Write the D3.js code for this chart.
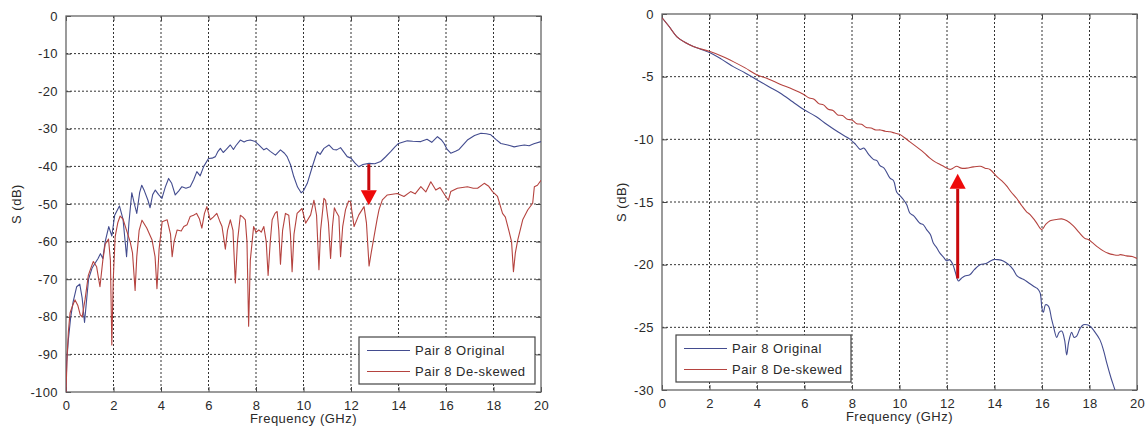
<!DOCTYPE html>
<html>
<head>
<meta charset="utf-8">
<script src="https://cdn.jsdelivr.net/npm/d3@7"></script>
<style>
  body { margin: 0; background: #fff; }
  text { font-family: Arial, "Liberation Sans", sans-serif; fill: #2a2a2a; }
  .tick-label { font-size: 13px; letter-spacing: 0.4px; }
  .axis-title { font-size: 13px; letter-spacing: 0.5px; }
  .legend-text { font-size: 13px; letter-spacing: 0.5px; }
</style>
</head>
<body>
<svg id="chart"></svg>
<script>
// svg size
const width = 1147;
const height = 429;

// ---- data ----
const seriesNames = ["Pair 8 Original", "Pair 8 De-skewed"];
const seriesColors = ["#434c8f", "#b5433f"];

const xTicks = [0, 2, 4, 6, 8, 10, 12, 14, 16, 18, 20];
const leftYTicks = [0, -10, -20, -30, -40, -50, -60, -70, -80, -90, -100];
const rightYTicks = [0, -5, -10, -15, -20, -25, -30];

// left panel, [GHz, dB]
const leftOriginal = [
  [0,-100],[0.03,-92],[0.1,-86],[0.2,-80],[0.3,-76],[0.45,-72],[0.58,-71.3],[0.68,-75],[0.78,-81.5],[0.86,-76],
  [0.95,-70],[1.1,-67],[1.25,-65.5],[1.35,-64.5],[1.45,-63.2],[1.55,-64.5],[1.65,-60],[1.8,-56],[1.93,-58.5],[2.05,-53],
  [2.25,-50.5],[2.4,-54],[2.55,-64],[2.65,-55],[2.77,-47],[2.88,-50],[2.98,-52.5],[3.1,-47],[3.19,-45],[3.3,-46.5],
  [3.45,-49],[3.54,-51],[3.65,-47.5],[3.76,-46.3],[3.9,-47.5],[4.04,-48.5],[4.18,-45.5],[4.32,-43.2],[4.45,-44.5],[4.6,-47.6],
  [4.75,-46.5],[4.88,-45.4],[5.05,-45.8],[5.23,-45.4],[5.38,-43.5],[5.51,-41.4],[5.65,-42.5],[5.8,-40],[6.0,-37.9],[6.15,-37.8],
  [6.29,-37.4],[6.4,-36],[6.5,-35.2],[6.62,-36.3],[6.75,-35.5],[6.92,-34.3],[7.05,-35.5],[7.15,-34.5],[7.34,-33.0],[7.5,-33.5],
  [7.6,-33.2],[7.76,-33.0],[7.97,-33.4],[8.15,-34.5],[8.33,-35.6],[8.45,-35.2],[8.6,-36],[8.82,-37],[9.03,-35.6],[9.2,-36.5],
  [9.31,-37.4],[9.45,-39.5],[9.59,-42.7],[9.75,-45.5],[9.9,-47],[10.0,-46.5],[10.16,-44.5],[10.37,-40.1],[10.5,-37.5],[10.58,-36.1],
  [10.7,-36.8],[10.86,-35.2],[11.07,-34.3],[11.25,-35.5],[11.4,-35.6],[11.56,-35],[11.7,-36.2],[11.84,-37.4],[12.0,-37.8],[12.15,-39],
  [12.33,-40.1],[12.5,-39.5],[12.76,-39.2],[13.0,-39.3],[13.25,-38.7],[13.45,-37.5],[13.67,-36.1],[13.85,-34.8],[14.0,-33.9],[14.37,-33.2],
  [14.6,-33.3],[14.94,-33.4],[15.2,-32.8],[15.4,-33.6],[15.64,-32.1],[15.8,-32.9],[15.92,-33.9],[16.05,-35.5],[16.2,-36.5],[16.4,-36],
  [16.55,-35.5],[16.9,-33.0],[17.2,-31.8],[17.47,-31.2],[17.7,-31.3],[17.89,-31.6],[18.1,-32.8],[18.31,-33.9],[18.6,-34.3],[18.87,-34.8],
  [19.1,-34.5],[19.3,-34.3],[19.5,-34.5],[19.7,-34.0],[20,-33.4]
];

const leftDeskewed = [
  [0,-100],[0.05,-90],[0.1,-84],[0.17,-79],[0.28,-77],[0.38,-75.5],[0.5,-77],[0.6,-79.5],[0.68,-80],[0.8,-75.5],
  [0.94,-69],[1.05,-67],[1.15,-65.3],[1.29,-66.7],[1.43,-72],[1.55,-65],[1.65,-60.7],[1.79,-59.3],[1.87,-65],[1.93,-87.5],
  [1.99,-70],[2.07,-58.7],[2.18,-55],[2.28,-53.2],[2.4,-54],[2.55,-57],[2.7,-60],[2.8,-63],[2.91,-73],[2.98,-64],
  [3.08,-57],[3.2,-54.3],[3.4,-56.4],[3.62,-59.5],[3.75,-64],[3.83,-72.5],[3.92,-62],[4.05,-54.7],[4.26,-54.2],[4.4,-58],
  [4.47,-64],[4.55,-60],[4.68,-56.9],[4.85,-57.2],[4.96,-56],[5.1,-55.5],[5.23,-53.3],[5.37,-53],[5.5,-52.5],[5.62,-54],
  [5.72,-56.4],[5.83,-52.5],[5.93,-50.7],[6.07,-54.2],[6.2,-53.5],[6.35,-52.5],[6.47,-54.5],[6.57,-56],[6.71,-62],[6.8,-57],
  [6.92,-54.2],[7.03,-57],[7.13,-71],[7.22,-60],[7.34,-53],[7.45,-53.5],[7.55,-54.2],[7.62,-60],[7.69,-82.5],[7.76,-65],
  [7.9,-56],[8.0,-57.5],[8.12,-56.9],[8.22,-57.5],[8.33,-56],[8.43,-60],[8.51,-69],[8.6,-60],[8.68,-54.2],[8.8,-52.5],
  [8.89,-52],[8.96,-57],[9.03,-66],[9.12,-57],[9.24,-52.5],[9.38,-53],[9.45,-58],[9.52,-68],[9.6,-58],[9.73,-52.5],
  [9.94,-51.2],[10.09,-55.1],[10.3,-52.9],[10.44,-49],[10.55,-53],[10.65,-67.5],[10.72,-57],[10.86,-48.5],[10.93,-49],[11.05,-55],
  [11.14,-64.5],[11.22,-56],[11.3,-51],[11.37,-52],[11.49,-53.3],[11.56,-64],[11.65,-56],[11.77,-51.5],[11.9,-49.2],[11.98,-49.4],
  [12.13,-56],[12.33,-52.9],[12.55,-50.7],[12.65,-55],[12.76,-66.5],[12.85,-63],[12.97,-58.7],[13.1,-54],[13.18,-51.5],[13.32,-48.9],
  [13.53,-47.6],[13.95,-47.2],[14.23,-48],[14.51,-46.7],[14.7,-47.3],[14.94,-45.4],[15.15,-46.8],[15.36,-44.1],[15.57,-46.3],[15.75,-45.6],
  [15.99,-48],[16.1,-49],[16.2,-46.7],[16.48,-45.8],[16.9,-45.4],[17.15,-45.8],[17.33,-45.8],[17.61,-44.5],[17.8,-45.3],[17.96,-46.7],
  [18.17,-48],[18.38,-52.5],[18.5,-53.5],[18.66,-57.4],[18.76,-60],[18.84,-68],[18.92,-63],[19.02,-59.6],[19.23,-54.2],[19.44,-51.6],
  [19.65,-49.8],[19.72,-45.4],[19.85,-45],[20,-43.7]
];

// right panel, [GHz, dB]
const rightOriginal = [
  [0,-0.3],[0.3,-1.0],[0.62,-1.8],[1.0,-2.3],[1.32,-2.6],[2.02,-3.1],[2.5,-3.6],[3.0,-4.2],[3.5,-4.7],[3.99,-5.24],
  [4.5,-5.8],[4.97,-6.3],[5.5,-7.0],[5.95,-7.6],[6.5,-8.2],[6.93,-8.8],[7.4,-9.4],[7.92,-10.0],[8.15,-10.4],[8.34,-10.8],
  [8.5,-10.7],[8.7,-11.2],[8.9,-11.6],[9.05,-11.7],[9.18,-12.1],[9.35,-12.3],[9.6,-13.1],[9.75,-13.3],[9.88,-14.2],[10.02,-14.5],
  [10.16,-14.8],[10.3,-15.2],[10.44,-15.9],[10.6,-16.1],[10.86,-16.7],[11.0,-16.8],[11.14,-17.2],[11.3,-17.6],[11.43,-18.3],[11.55,-18.6],
  [11.71,-19.1],[11.85,-19.4],[11.99,-19.7],[12.1,-19.6],[12.25,-20.0],[12.35,-20.6],[12.48,-21.3],[12.6,-21.1],[12.75,-20.9],[12.96,-20.8],
  [13.15,-20.4],[13.39,-20.0],[13.65,-19.9],[13.95,-19.6],[14.15,-19.6],[14.37,-19.7],[14.6,-20.0],[14.79,-20.4],[14.95,-20.9],[15.07,-21.05],
  [15.25,-21.2],[15.4,-21.4],[15.63,-21.7],[15.8,-21.9],[15.92,-22.25],[16.0,-23.5],[16.06,-23.8],[16.15,-23.2],[16.27,-23.3],[16.4,-24.3],
  [16.48,-24.9],[16.62,-25.8],[16.72,-25.4],[16.83,-25.3],[16.95,-26.0],[17.04,-27.2],[17.12,-26.2],[17.25,-25.4],[17.35,-25.8],[17.46,-25.7],
  [17.6,-25.1],[17.74,-24.8],[17.9,-24.8],[18.02,-24.9],[18.2,-25.3],[18.44,-26.0],[18.6,-26.9],[18.72,-27.8],[18.9,-29.0],[19.07,-30.0],
  [19.15,-30.6]
];

const rightDeskewed = [
  [0,-0.3],[0.3,-1.0],[0.62,-1.8],[1.0,-2.3],[1.32,-2.6],[2.02,-3.0],[2.5,-3.35],[3.0,-3.8],[3.5,-4.3],[3.99,-4.84],
  [4.5,-5.2],[4.97,-5.6],[5.5,-6.0],[5.95,-6.4],[6.2,-6.7],[6.4,-6.8],[6.6,-7.15],[6.8,-7.25],[7.0,-7.6],[7.2,-7.7],
  [7.4,-8.05],[7.6,-8.1],[7.8,-8.4],[8.0,-8.45],[8.2,-8.75],[8.4,-8.8],[8.6,-9.05],[8.8,-9.1],[9.0,-9.25],[9.2,-9.25],
  [9.4,-9.35],[9.6,-9.4],[9.8,-9.5],[10.0,-9.6],[10.2,-9.85],[10.44,-10.2],
  [10.65,-10.5],[10.86,-10.8],[11.05,-11.1],[11.28,-11.5],[11.5,-11.8],[11.71,-12.0],[11.9,-12.2],[12.13,-12.4],[12.25,-12.3],[12.41,-12.15],
  [12.6,-12.3],[12.83,-12.3],[13.1,-12.2],[13.4,-12.15],[13.6,-12.3],[13.81,-12.4],[14.09,-12.95],[14.3,-13.3],[14.5,-13.7],[14.7,-14.2],
  [14.93,-14.7],[15.15,-15.3],[15.36,-15.8],[15.5,-16.0],[15.75,-16.6],[15.99,-17.2],[16.15,-16.8],[16.34,-16.5],[16.6,-16.4],[16.83,-16.35],
  [17.05,-16.5],[17.32,-16.9],[17.55,-17.4],[17.8,-17.9],[17.95,-18.0],[18.16,-18.3],[18.35,-18.6],[18.58,-18.9],[18.8,-19.1],[19.0,-19.2],
  [19.2,-19.25],[19.3,-19.2],[19.56,-19.3],[19.8,-19.35],[20,-19.5]
];

// annotation arrows: [GHz, tail dB, tip dB]
const leftArrow = [12.75, -39.4, -50.3];
const rightArrow = [12.45, -21.1, -12.75];

// ---- layout ----
const panels = [
  {
    id: "left",
    box: { left: 66, top: 16, right: 541, bottom: 392 },
    yDomain: [-100, 0],
    yTicks: leftYTicks,
    series: [leftOriginal, leftDeskewed],
    curve: d3.curveLinear,
    legend: { x: 359, y: 337, w: 176, h: 47 },
    arrow: leftArrow,
    yTitleX: 16
  },
  {
    id: "right",
    box: { left: 662, top: 14, right: 1137, bottom: 390 },
    yDomain: [-30, 0],
    yTicks: rightYTicks,
    series: [rightOriginal, rightDeskewed],
    curve: d3.curveCatmullRom,
    legend: { x: 676, y: 335, w: 175, h: 47 },
    arrow: rightArrow,
    yTitleX: 621
  }
];

const svg = d3.select("#chart")
  .attr("width", width)
  .attr("height", height);

const defs = svg.append("defs");

panels.forEach(drawPanel);

function drawPanel(p) {
  let b = p.box;
  let xScale = d3.scaleLinear().domain([0, 20]).range([b.left, b.right]);
  let yScale = d3.scaleLinear().domain(p.yDomain).range([b.bottom, b.top]);

  let g = svg.append("g").attr("id", p.id);

  // clip so lines that run off the bottom get cut
  defs.append("clipPath")
    .attr("id", "clip-" + p.id)
    .append("rect")
    .attr("x", b.left).attr("y", b.top)
    .attr("width", b.right - b.left).attr("height", b.bottom - b.top);

  // dotted grid
  let grid = g.append("g").attr("class", "grid");
  grid.selectAll("line.vg")
    .data(xTicks.slice(1, -1))
    .enter().append("line")
    .attr("x1", d => xScale(d)).attr("x2", d => xScale(d))
    .attr("y1", b.top).attr("y2", b.bottom);
  grid.selectAll("line.hg")
    .data(p.yTicks.filter(d => d != p.yDomain[0] && d != p.yDomain[1]))
    .enter().append("line")
    .attr("y1", d => yScale(d)).attr("y2", d => yScale(d))
    .attr("x1", b.left).attr("x2", b.right);
  grid.selectAll("line")
    .attr("stroke", "#333")
    .attr("stroke-width", 1)
    .attr("stroke-dasharray", "2,2");

  // axes with inward ticks (matlab style), plain hyphen for minus
  let fmt = d => String(d);
  let xAxis = d3.axisBottom(xScale).tickValues(xTicks).tickSize(-5).tickPadding(9).tickSizeOuter(0).tickFormat(fmt);
  let xTop = d3.axisTop(xScale).tickValues(xTicks).tickSize(-5).tickFormat("").tickSizeOuter(0);
  let yAxis = d3.axisLeft(yScale).tickValues(p.yTicks).tickSize(-5).tickPadding(8).tickSizeOuter(0).tickFormat(fmt);
  let yRight = d3.axisRight(yScale).tickValues(p.yTicks).tickSize(-5).tickFormat("").tickSizeOuter(0);

  let axes = [
    g.append("g").attr("transform", translate(0, b.bottom)).call(xAxis),
    g.append("g").attr("transform", translate(0, b.top)).call(xTop),
    g.append("g").attr("transform", translate(b.left, 0)).call(yAxis),
    g.append("g").attr("transform", translate(b.right, 0)).call(yRight)
  ];
  axes.forEach(a => {
    a.attr("font-size", null).attr("font-family", null);
    a.select("path.domain").remove();
    a.selectAll("line").attr("stroke", "#444");
    a.selectAll("text")
      .attr("class", "tick-label")
      .attr("fill", "#2a2a2a");
  });

  // frame
  g.append("rect")
    .attr("x", b.left).attr("y", b.top)
    .attr("width", b.right - b.left).attr("height", b.bottom - b.top)
    .attr("fill", "none")
    .attr("stroke", "#666")
    .attr("stroke-width", 1.3);

  // curves
  let line = d3.line()
    .curve(p.curve)
    .x(d => xScale(d[0]))
    .y(d => yScale(d[1]));

  g.append("g")
    .attr("clip-path", "url(#clip-" + p.id + ")")
    .selectAll("path")
    .data(p.series)
    .enter().append("path")
    .attr("d", line)
    .attr("fill", "none")
    .attr("stroke", (d, i) => seriesColors[i])
    .attr("stroke-width", 1.1)
    .attr("stroke-linejoin", "round");

  drawArrow(g, p.arrow, xScale, yScale);
  drawLegend(g, p.legend);

  // titles
  g.append("text")
    .attr("class", "axis-title")
    .attr("x", (b.left + b.right) / 2)
    .attr("y", b.bottom + 31)
    .attr("text-anchor", "middle")
    .text("Frequency (GHz)");

  g.append("g")
    .attr("transform", translate(p.yTitleX, (b.top + b.bottom) / 2))
    .append("text")
    .attr("class", "axis-title")
    .attr("text-anchor", "middle")
    .attr("dy", "0.35em")
    .attr("transform", "rotate(-90)")
    .text("S (dB)");
}

function drawArrow(g, a, xScale, yScale) {
  let x = xScale(a[0]);
  let y0 = yScale(a[1]);
  let y1 = yScale(a[2]);
  let dir = y1 > y0 ? 1 : -1;
  let headLen = 15;
  let headHalf = 8;

  g.append("line")
    .attr("x1", x).attr("x2", x)
    .attr("y1", y0).attr("y2", y1 - dir * headLen)
    .attr("stroke", "#c8080c")
    .attr("stroke-width", 3);

  g.append("path")
    .attr("d", "M" + (x - headHalf) + "," + (y1 - dir * headLen) +
      "L" + (x + headHalf) + "," + (y1 - dir * headLen) +
      "L" + x + "," + y1 + "Z")
    .attr("fill", "#ee0a0a");
}

function drawLegend(g, L) {
  let legend = g.append("g").attr("class", "legend");

  legend.append("rect")
    .attr("x", L.x).attr("y", L.y)
    .attr("width", L.w).attr("height", L.h)
    .attr("fill", "#fff")
    .attr("stroke", "#444")
    .attr("stroke-width", 1.2);

  let rows = legend.selectAll("g.row")
    .data(seriesNames)
    .enter().append("g")
    .attr("transform", (d, i) => translate(L.x, L.y + 13.5 + i * 21));

  rows.append("line")
    .attr("x1", 8).attr("x2", 51)
    .attr("y1", 0).attr("y2", 0)
    .attr("stroke", (d, i) => seriesColors[i])
    .attr("stroke-width", 1.2);

  rows.append("text")
    .attr("class", "legend-text")
    .attr("x", 56)
    .attr("dy", "0.35em")
    .text(d => d);
}

function translate(x, y) {
  return "translate(" + String(x) + "," + String(y) + ")";
}
</script>
</body>
</html>
